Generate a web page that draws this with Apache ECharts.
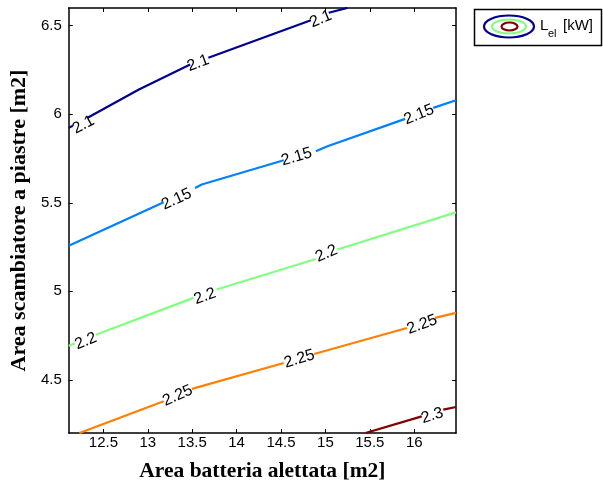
<!DOCTYPE html>
<html>
<head>
<meta charset="utf-8">
<script src="https://cdn.jsdelivr.net/npm/echarts@6/dist/echarts.min.js"></script>
<style>
html,body{margin:0;padding:0;background:#fff;}
#c{width:603px;height:488px;}
</style>
</head>
<body>
<div id="c"></div>
<script>
// ---- data ----
const xRange = [12.11, 16.47];
const yRange = [4.2, 6.6];
const xTicks = [12.5, 13, 13.5, 14, 14.5, 15, 15.5, 16];
const yTicks = [4.5, 5, 5.5, 6, 6.5];
const levels = ['2.1', '2.15', '2.2', '2.25', '2.3'];
const levelColors = ['#00008F', '#0080FF', '#80FF80', '#FF8000', '#800000'];

// contour lines (null = gap where a label sits)
const line21 = [[12.11,5.923],[12.155,5.935],null,[12.322,5.980],[12.90,6.140],[13.477,6.281],null,[13.682,6.319],[14.836,6.531],null,[15.037,6.573],[15.246,6.6]];
const line215 = [[12.11,5.258],[13.179,5.503],null,[13.532,5.584],[13.607,5.603],[14.531,5.740],null,[14.892,5.791],[15.023,5.819],[15.898,5.974],null,[16.214,6.036],[16.47,6.079]];
const line22 = [[12.11,4.693],[12.177,4.706],null,[12.415,4.755],[13.514,4.963],null,[13.775,5.010],[14.892,5.183],null,[15.135,5.236],[16.47,5.446]];
const line225 = [[12.230,4.2],[13.179,4.379],null,[13.496,4.449],[14.531,4.595],null,[14.873,4.646],[15.917,4.793],null,[16.233,4.850],[16.47,4.878]];
const line23 = [[15.451,4.2],[16.084,4.294],null,[16.326,4.332],[16.47,4.347]];

// label positions (text centres)
const lab21 = [[12.275,5.940],[13.566,6.288],[14.948,6.537]];
const lab215 = [[13.324,5.520],[14.676,5.759],[16.054,5.998]];
const lab22 = [[12.303,4.718],[13.644,4.972],[15.012,5.213]];
const lab225 = [[13.336,4.411],[14.706,4.618],[16.088,4.812]];
const lab23 = [[16.203,4.298]];

const allLines = [line21, line215, line22, line225, line23];
const allLabels = [lab21, lab215, lab22, lab225, lab23];

const sans = '"Liberation Sans", Arial, Helvetica, sans-serif';
const serif = '"Liberation Serif", "Times New Roman", serif';

const chart = echarts.init(document.getElementById('c'), null, {renderer: 'canvas'});

function splitSegments(arr) {
  const segs = []; let cur = [];
  arr.forEach(p => { if (p === null) { if (cur.length) segs.push(cur); cur = []; } else cur.push(p); });
  if (cur.length) segs.push(cur);
  return segs;
}

function buildSeries(rotations) {
  const series = [];
  allLines.forEach((ln, i) => {
    splitSegments(ln).forEach(seg => {
      series.push({
        type: 'line', data: seg, symbol: 'none', silent: true, animation: false,
        lineStyle: {color: levelColors[i], width: 2.2}, itemStyle: {color: levelColors[i]}, z: 2
      });
    });
  });
  allLabels.forEach((labs, i) => {
    series.push({
      type: 'scatter', symbolSize: 0, animation: false, silent: true, z: 3,
      itemStyle: {color: '#000', opacity: 1},
      data: labs.map((p, j) => ({
        value: p,
        label: {
          show: true, formatter: levels[i], position: 'inside',
          rotate: rotations ? rotations[i][j] : 0,
          color: '#000', textBorderWidth: 0, textBorderColor: 'transparent', opacity: 1,
          fontSize: 16, fontFamily: sans,
          align: 'center', verticalAlign: 'middle'
        }
      }))
    });
  });
  return series;
}

const axisLine = {show: true, onZero: false, lineStyle: {color: '#000', width: 1.5}};
const tickStyle = (vals) => ({show: true, inside: true, length: 4, customValues: vals, lineStyle: {color: '#000', width: 1}});

const option = {
  animation: false,
  backgroundColor: '#fff',
  grid: {left: 66, top: 8, width: 390, height: 425, containLabel: false},
  xAxis: [
    {
      type: 'value', min: xRange[0], max: xRange[1], position: 'bottom',
      axisLine: axisLine, splitLine: {show: false},
      name: 'Area batteria alettata [m2]', nameLocation: 'middle', nameGap: 27,
      nameTextStyle: {fontFamily: serif, fontWeight: 'bold', fontSize: 21.5, color: '#000'},
      axisTick: tickStyle(xTicks),
      axisLabel: {show: true, customValues: xTicks, margin: 2, color: '#000', fontSize: 15, fontFamily: sans}
    },
    {
      type: 'value', min: xRange[0], max: xRange[1], position: 'top',
      axisLine: axisLine, splitLine: {show: false},
      axisTick: tickStyle(xTicks),
      axisLabel: {show: false}
    }
  ],
  yAxis: [
    {
      type: 'value', min: yRange[0], max: yRange[1], position: 'left',
      axisLine: axisLine, splitLine: {show: false},
      name: 'Area scambiatore a piastre [m2]', nameLocation: 'middle', nameGap: 35, nameRotate: 90,
      nameTextStyle: {fontFamily: serif, fontWeight: 'bold', fontSize: 22, color: '#000'},
      axisTick: tickStyle(yTicks),
      axisLabel: {show: true, customValues: yTicks, margin: 7, color: '#000', fontSize: 15, fontFamily: sans}
    },
    {
      type: 'value', min: yRange[0], max: yRange[1], position: 'right',
      axisLine: axisLine, splitLine: {show: false},
      axisTick: tickStyle(yTicks),
      axisLabel: {show: false}
    }
  ],
  graphic: [
    {type: 'rect', shape: {x: 474.5, y: 9.5, width: 127, height: 36}, style: {fill: '#fff', stroke: '#000', lineWidth: 1.5}, z: 10},
    {type: 'ellipse', shape: {cx: 509, cy: 26.5, rx: 25, ry: 11}, style: {fill: 'none', stroke: '#00008F', lineWidth: 2.2}, z: 11},
    {type: 'ellipse', shape: {cx: 509, cy: 26.5, rx: 17, ry: 7}, style: {fill: 'none', stroke: '#80FF80', lineWidth: 2.2}, z: 11},
    {type: 'ellipse', shape: {cx: 509.5, cy: 26.5, rx: 8, ry: 4}, style: {fill: 'none', stroke: '#800000', lineWidth: 2.2}, z: 11},
    {type: 'text', x: 540, y: 25.5, style: {text: 'L', fontSize: 15, fontFamily: sans, fill: '#000', verticalAlign: 'middle', align: 'left'}, z: 11},
    {type: 'text', x: 548, y: 33.5, style: {text: 'el', fontSize: 11, fontFamily: sans, fill: '#000', verticalAlign: 'middle', align: 'left'}, z: 11},
    {type: 'text', x: 563, y: 25.5, style: {text: '[kW]', fontSize: 15, fontFamily: sans, fill: '#000', verticalAlign: 'middle', align: 'left'}, z: 11}
  ],
  series: buildSeries(null)
};

chart.setOption(option);

// compute label rotations from the local direction of each contour (pixel space)
const rotations = allLabels.map((labs, i) => {
  const pts = allLines[i].filter(p => p !== null);
  return labs.map(l => {
    let prev = null, next = null;
    pts.forEach(p => {
      if (p[0] < l[0] && (!prev || p[0] > prev[0])) prev = p;
      if (p[0] > l[0] && (!next || p[0] < next[0])) next = p;
    });
    if (!prev || !next) return 0;
    const a = chart.convertToPixel({gridIndex: 0}, prev);
    const b = chart.convertToPixel({gridIndex: 0}, next);
    return -Math.atan2(b[1] - a[1], b[0] - a[0]) * 180 / Math.PI;
  });
});
chart.setOption({series: buildSeries(rotations)});
</script>
</body>
</html>
